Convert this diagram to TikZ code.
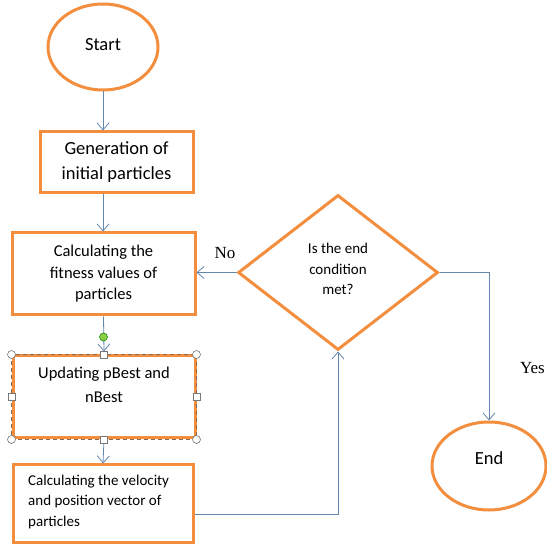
\documentclass[tikz,border=0pt]{standalone}
\usepackage{fontspec}
\setmainfont{Carlito}
\newfontfamily\timesfont{Liberation Serif}
\usetikzlibrary{shapes.geometric,arrows.meta}
\definecolor{orng}{RGB}{242,142,62}
\definecolor{conncol}{RGB}{100,135,175}
\definecolor{handle}{RGB}{120,120,120}
\definecolor{dashc}{RGB}{140,105,80}
\definecolor{greendot}{RGB}{140,205,70}
\begin{document}
\begin{tikzpicture}[x=1pt,y=-1pt,
  boxst/.style={draw=orng, line width=3pt, rectangle, inner sep=0pt, fill=white, align=center},
  ellst/.style={draw=orng, line width=3pt, ellipse, inner sep=0pt, fill=white},
  diast/.style={draw=orng, line width=3pt, diamond, inner sep=0pt, fill=white},
  conn/.style={draw=conncol, line width=0.8pt, -{Straight Barb[length=7pt,width=12pt]}},
  txt/.style={inner sep=0pt, align=center},
  fA/.style={font=\fontsize{18.5}{25}\selectfont},
  fB/.style={font=\fontsize{16.5}{21.5}\selectfont},
  fC/.style={font=\fontsize{15}{20.5}\selectfont},
  fD/.style={font=\fontsize{16.5}{24}\selectfont},
  fT/.style={font=\timesfont\fontsize{17}{20}\selectfont},
  circh/.style={circle, draw=handle, fill=white, line width=0.6pt, minimum size=8pt, inner sep=0pt},
  sqh/.style={rectangle, draw=handle, fill=white, line width=0.6pt, minimum size=7pt, inner sep=0pt}
]
\useasboundingbox (0,0) rectangle (547,545);

% shapes
\node[ellst, minimum width=110, minimum height=86] (start) at (103,47) {};
\node[txt, fA] (starttxt) at (103,45) {Start};

\node[boxst, fA, minimum width=153, minimum height=61] (gen) at (116.5,162.5) {Generation of\\initial particles};

\node[boxst, fB, minimum width=183, minimum height=82] (fit) at (103.5,274) {Calculating the\\fitness values of\\particles};

\node[boxst, minimum width=182, minimum height=82] (upd) at (104,397) {};
\node[txt, fD] (updtxt) at (104,385) {Updating pBest and\\nBest};

\node[boxst, minimum width=180, minimum height=78] (vel) at (103,504) {};
\node[txt, fC, align=left, anchor=west] (veltxt) at (28,502) {Calculating the velocity\\and position vector of\\particles};

\node[diast, minimum width=200, minimum height=155] (cond) at (338,272.5) {};
\node[txt, fC] (condtxt) at (338,269) {Is the end\\condition\\met?};

\node[ellst, minimum width=114, minimum height=88] (end) at (489,466) {};
\node[txt, fA] (endtxt) at (489,458) {End};

% connectors
\coordinate (vy) at (0,514);
\draw[conn] (start.south) -- (start.south |- gen.north);
\draw[conn] (start.south |- gen.south) -- (start.south |- fit.north);
\draw[conn] (fit.south) -- ([yshift=3pt]upd.north);
\draw[conn] (upd.south) -- (vel.north);
\draw[conn] (vel.east |- vy) -| (cond.south);
\draw[conn] (cond.west) -- (cond.west -| fit.east);
\draw[conn] (cond.east) -| (end.north);

% labels
\node[txt, fT] (nolbl) at (225,253) {No};
\node[txt, fT, anchor=east] (yeslbl) at (545,368) {Yes};

% selection overlay on the updating box
\draw[dashc, line width=0.8pt, dash pattern=on 4pt off 3pt] (upd.north west) rectangle (upd.south east);
\node[circh] (h1) at (upd.north west) {};
\node[circh] (h2) at (upd.north east) {};
\node[circh] (h3) at (upd.south west) {};
\node[circh] (h4) at (upd.south east) {};
\node[sqh] (h5) at (upd.north) {};
\node[sqh] (h6) at (upd.south) {};
\node[sqh] (h7) at (upd.west) {};
\node[sqh] (h8) at (upd.east) {};
\node[circle, draw=green!50!black, fill=greendot, line width=0.5pt, minimum size=8pt, inner sep=0pt] (rot) at (103.5,337) {};
\end{tikzpicture}
\end{document}
